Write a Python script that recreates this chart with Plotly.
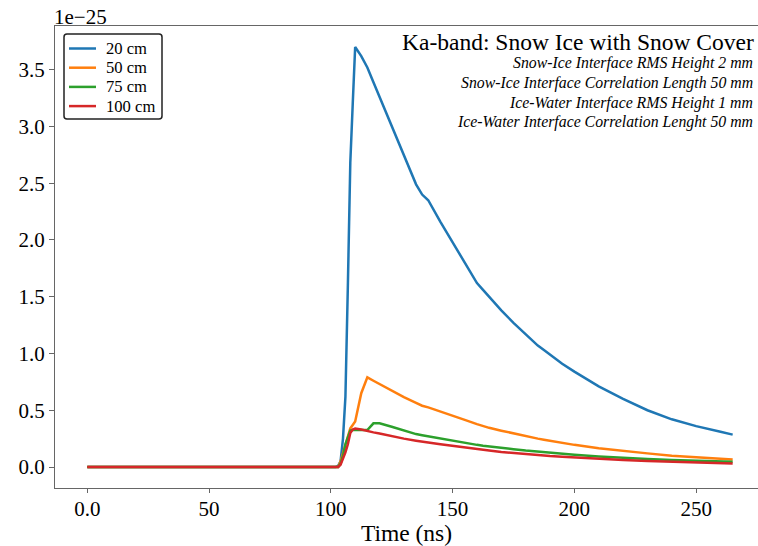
import plotly.graph_objects as go

# Time axis (ns)
time_ns = [0, 102, 103, 104, 105, 106, 107, 108, 109, 110, 112.5, 115, 117.5, 120,
           125, 130, 135, 137.5, 140, 145, 150, 155, 160, 162.5, 165, 170, 175, 180,
           185, 187.5, 190, 195, 200, 210, 220, 230, 240, 250, 260, 265]

# Values in units of 1e-25
depth_20cm = [0, 0, 0.01, 0.05, 0.25, 0.62, 1.6, 2.68, 3.2, 3.70, 3.62, 3.52, 3.39, 3.26,
              3.00, 2.75, 2.49, 2.40, 2.35, 2.16, 1.98, 1.79, 1.62, 1.56, 1.50, 1.38, 1.27, 1.17,
              1.07, 1.03, 0.99, 0.91, 0.84, 0.71, 0.60, 0.50, 0.42, 0.36, 0.31, 0.285]
depth_50cm = [0, 0, 0.0, 0.05, 0.12, 0.20, 0.27, 0.34, 0.37, 0.40, 0.65, 0.79, 0.76, 0.73,
              0.67, 0.615, 0.565, 0.54, 0.525, 0.49, 0.455, 0.415, 0.378, 0.36, 0.345, 0.32, 0.295, 0.27,
              0.25, 0.24, 0.23, 0.21, 0.195, 0.165, 0.14, 0.12, 0.10, 0.085, 0.072, 0.065]
depth_75cm = [0, 0, 0, 0.03, 0.10, 0.20, 0.27, 0.32, 0.325, 0.325, 0.325, 0.325, 0.385, 0.385,
              0.355, 0.32, 0.29, 0.28, 0.27, 0.25, 0.23, 0.21, 0.195, 0.187, 0.18, 0.17, 0.157, 0.145,
              0.135, 0.13, 0.125, 0.117, 0.108, 0.093, 0.08, 0.07, 0.061, 0.054, 0.049, 0.046]
depth_100cm = [0, 0, 0, 0.02, 0.07, 0.13, 0.20, 0.30, 0.33, 0.338, 0.33, 0.315, 0.305, 0.295,
               0.27, 0.25, 0.232, 0.222, 0.215, 0.20, 0.185, 0.17, 0.155, 0.15, 0.145, 0.132, 0.122, 0.113,
               0.104, 0.10, 0.096, 0.09, 0.083, 0.071, 0.061, 0.052, 0.045, 0.039, 0.033, 0.03]

series_names = ["20 cm", "50 cm", "75 cm", "100 cm"]
series_values = [depth_20cm, depth_50cm, depth_75cm, depth_100cm]
series_colors = ["#1f77b4", "#ff7f0e", "#2ca02c", "#d62728"]

x_tickvals = [0, 50, 100, 150, 200, 250]
x_ticktext = ["0.0", "50", "100", "150", "200", "250"]
y_tickvals = [0.0, 0.5, 1.0, 1.5, 2.0, 2.5, 3.0, 3.5]
y_ticktext = ["0.0", "0.5", "1.0", "1.5", "2.0", "2.5", "3.0", "3.5"]

title_text = "Ka-band: Snow Ice with Snow Cover"
subtitle_lines = ["Snow-Ice Interface RMS Height 2 mm",
                  "Snow-Ice Interface Correlation Length 50 mm",
                  "Ice-Water Interface RMS Height 1 mm",
                  "Ice-Water Interface Correlation Lenght 50 mm"]

SERIF = "Liberation Serif, Times New Roman, serif"

W, H = 758, 546
ML, MR, MT, MB = 55, 0, 26, 58
PW, PH = W - ML - MR, H - MT - MB


def px(xp):
    return (xp - ML) / PW


def py(yp):
    return (H - MB - yp) / PH


fig = go.Figure()
for name, vals, col in zip(series_names, series_values, series_colors):
    fig.add_trace(go.Scatter(x=time_ns, y=vals, mode="lines", name=name,
                             line=dict(color=col, width=2.5), showlegend=False))

axis_col = "#666666"
fig.update_layout(
    width=W, height=H,
    margin=dict(l=ML, r=MR, t=MT, b=MB),
    paper_bgcolor="white", plot_bgcolor="white",
    font=dict(family=SERIF, size=21, color="black"),
    showlegend=False,
    xaxis=dict(range=[-13.25, 275.4], tickvals=x_tickvals, ticktext=x_ticktext,
               showgrid=False, zeroline=False, showline=True, linecolor=axis_col,
               linewidth=1.2, mirror=True, ticks="outside", ticklen=4, tickcolor=axis_col,
               ticklabelstandoff=-2,
               tickfont=dict(family=SERIF, size=21, color="black"),
               title=dict(text="Time (ns)", font=dict(family=SERIF, size=23.5, color="black"),
                          standoff=6)),
    yaxis=dict(range=[-0.185, 3.885], tickvals=y_tickvals, ticktext=y_ticktext,
               showgrid=False, zeroline=False, showline=True, linecolor=axis_col,
               linewidth=1.2, mirror=False, ticks="outside", ticklen=5, tickcolor=axis_col,
               tickfont=dict(family=SERIF, size=21, color="black")),
)

annotations = [
    dict(text="1e\u221225", xref="paper", yref="paper", x=0, y=1, xanchor="left",
         yanchor="middle", xshift=-3, yshift=9, showarrow=False,
         font=dict(family=SERIF, size=21, color="black")),
    dict(text=title_text, xref="paper", yref="paper", x=1, y=1, xanchor="right",
         yanchor="middle", xshift=-2, yshift=-15.7, showarrow=False,
         font=dict(family=SERIF, size=23.5, color="black")),
]
for line_text, ys in zip(subtitle_lines, [-37, -57.3, -76.7, -96]):
    annotations.append(dict(text="<i>" + line_text + "</i>", xref="paper", yref="paper",
                            x=1, y=1, xanchor="right", yanchor="middle", xshift=-3.5,
                            yshift=ys, showarrow=False,
                            font=dict(family=SERIF, size=15.8, color="black")))

# Legend box (matplotlib style, rounded corners)
bx0, bx1, by0, by1, r = 64, 162, 34, 119, 3
path = (f"M {px(bx0 + r)},{py(by0)} L {px(bx1 - r)},{py(by0)} "
        f"Q {px(bx1)},{py(by0)} {px(bx1)},{py(by0 + r)} "
        f"L {px(bx1)},{py(by1 - r)} Q {px(bx1)},{py(by1)} {px(bx1 - r)},{py(by1)} "
        f"L {px(bx0 + r)},{py(by1)} Q {px(bx0)},{py(by1)} {px(bx0)},{py(by1 - r)} "
        f"L {px(bx0)},{py(by0 + r)} Q {px(bx0)},{py(by0)} {px(bx0 + r)},{py(by0)} Z")
shapes = [dict(type="path", path=path, xref="paper", yref="paper",
               line=dict(color="#222222", width=1.5), fillcolor="white", layer="above")]
row_y = [48.5, 67.7, 86.9, 106.1]
for name, col, ry in zip(series_names, series_colors, row_y):
    shapes.append(dict(type="line", xref="paper", yref="paper",
                       x0=px(69), x1=px(96), y0=py(ry), y1=py(ry),
                       line=dict(color=col, width=2.5), layer="above"))
    annotations.append(dict(text=name, xref="paper", yref="paper", x=px(104.5), y=py(ry),
                            xanchor="left", yanchor="middle", showarrow=False, borderpad=0,
                            font=dict(family=SERIF, size=16.6, color="black")))

fig.update_layout(annotations=annotations, shapes=shapes)

fig.write_html("out.html")
